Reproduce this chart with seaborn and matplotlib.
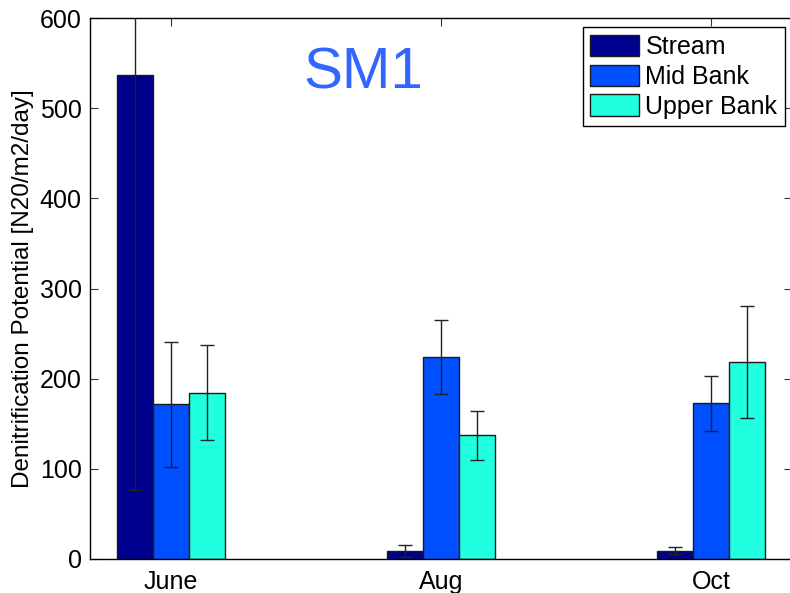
import matplotlib
matplotlib.use("Agg")
import matplotlib.pyplot as plt
import seaborn as sns
import pandas as pd

# Sampling months and bank positions
months = ["June", "Aug", "Oct"]
sites = ["Stream", "Mid Bank", "Upper Bank"]

# Mean denitrification potential per site, one value per month
stream_vals = [537, 9, 9]
mid_vals = [171.5, 224, 172.5]
upper_vals = [184.5, 137, 218.5]

# Error half-widths per site, one value per month
stream_err = [461, 6.5, 4]
mid_err = [69, 41.5, 30]
upper_err = [52.5, 27.5, 62]

y_ticks = [0, 100, 200, 300, 400, 500, 600]

site_colors = ["#00008F", "#0050FF", "#20FFDF"]

values = {"Stream": stream_vals, "Mid Bank": mid_vals, "Upper Bank": upper_vals}
errors = {"Stream": stream_err, "Mid Bank": mid_err, "Upper Bank": upper_err}

rows = []
for s in sites:
    for m, v in zip(months, values[s]):
        rows.append({"month": m, "site": s, "value": v})
df = pd.DataFrame(rows)

sns.set_style("white")
plt.rcParams["font.family"] = ["Liberation Sans", "DejaVu Sans"]
plt.rcParams["text.color"] = "black"
plt.rcParams["axes.labelcolor"] = "black"

fig = plt.figure(figsize=(7.9, 5.93), dpi=100)
ax = fig.add_axes([90 / 790, 34 / 593, 702 / 790, 541 / 593])

sns.barplot(data=df, x="month", y="value", hue="site", order=months,
            hue_order=sites, palette=site_colors, width=0.4, gap=0,
            errorbar=None, saturation=1, edgecolor="#1a1a1a", linewidth=1.0,
            ax=ax)

# Error bars centred on each bar
for cont, s in zip(ax.containers, sites):
    xs = [p.get_x() + p.get_width() / 2 for p in cont]
    ax.errorbar(xs, values[s], yerr=errors[s], fmt="none", ecolor="#222222",
                elinewidth=1.0, capsize=5, capthick=1.0, zorder=5)

ax.set_xlim(-0.3, 2.3)
ax.set_ylim(0, 600)
ax.set_yticks(y_ticks)
ax.set_xlabel("")
ax.set_ylabel("Denitrification Potential [N20/m2/day]", fontsize=17.5,
              labelpad=4)

for sp in ax.spines.values():
    sp.set_visible(True)
    sp.set_color("black")
    sp.set_linewidth(1.0)

ax.tick_params(axis="both", which="major", direction="in", length=6,
               width=0.8, color="#333333", labelsize=18, labelcolor="black",
               top=True, right=True, bottom=True, left=True)
ax.tick_params(axis="x", pad=8)
ax.tick_params(axis="y", pad=6)

ax.text(0.389, 0.8965, "SM1", transform=ax.transAxes, ha="center",
        va="center", fontsize=42, color="#3366FF")

leg = ax.legend(loc="upper right", bbox_to_anchor=(0.990, 0.983),
                borderaxespad=0, fontsize=18, frameon=True, fancybox=False,
                framealpha=1, edgecolor="black", handlelength=1.95,
                handleheight=0.95, handletextpad=0.25, labelspacing=0.22,
                borderpad=0.3)
leg.get_frame().set_linewidth(1.0)

fig.savefig("out.png", dpi=100)
